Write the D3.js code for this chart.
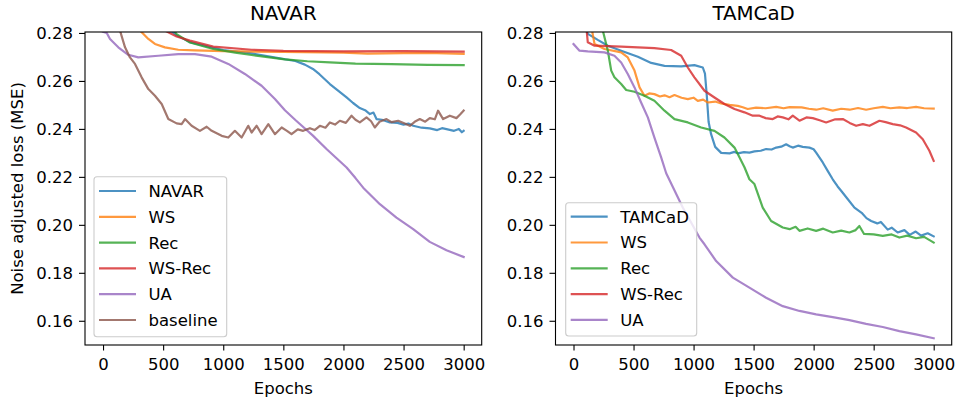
<!DOCTYPE html>
<html>
<head>
<meta charset="utf-8">
<script src="https://cdn.jsdelivr.net/npm/d3@7"></script>
<style>
  html, body { margin: 0; padding: 0; background: #fff; }
  svg { display: block; font-family: "DejaVu Sans", sans-serif; }
</style>
</head>
<body>
<svg id="chart" width="957" height="403"></svg>
<script>
// ---------- data (epoch, value) ----------
const xTicks = [0, 500, 1000, 1500, 2000, 2500, 3000];
const yTicks = [0.16, 0.18, 0.20, 0.22, 0.24, 0.26, 0.28];
const panelTitles = ["NAVAR", "TAMCaD"];
const leftLabels = ["NAVAR", "WS", "Rec", "WS-Rec", "UA", "baseline"];
const rightLabels = ["TAMCaD", "WS", "Rec", "WS-Rec", "UA"];

// Left panel (NAVAR)
const navarMain = [[0,0.34],[300,0.295],[515,0.283],[612,0.279],[723,0.2762],[917,0.2738],[1000,0.2729],[1236,0.2715],[1471,0.2694],[1600,0.2683],[1679,0.2668],[1746,0.265],[1800,0.2628],[1887,0.2587],[1950,0.2562],[2026,0.2531],[2080,0.2508],[2136,0.2487],[2180,0.2478],[2220,0.2462],[2250,0.2468],[2275,0.2441],[2320,0.2438],[2386,0.2427],[2450,0.2425],[2500,0.2418],[2540,0.2422],[2580,0.2413],[2650,0.2405],[2718,0.2402],[2780,0.2395],[2820,0.2403],[2857,0.2399],[2920,0.2392],[2960,0.2400],[2985,0.2386],[3000,0.2392]];
const navarWS = [[0,0.32],[150,0.298],[250,0.286],[308,0.281],[377,0.2775],[432,0.2754],[515,0.274],[626,0.273],[765,0.2727],[1000,0.2724],[1500,0.2721],[2000,0.2718],[2200,0.2714],[2500,0.2716],[2700,0.2717],[3000,0.2713]];
const navarRec = [[0,0.35],[300,0.30],[540,0.285],[612,0.2795],[723,0.276],[917,0.2733],[1100,0.2718],[1236,0.2708],[1513,0.269],[1700,0.2682],[1887,0.2677],[2100,0.2672],[2400,0.267],[2700,0.2667],[3000,0.2666]];
const navarWSRec = [[0,0.33],[300,0.292],[515,0.281],[612,0.2785],[723,0.2768],[917,0.2743],[1236,0.273],[1500,0.2725],[2000,0.2723],[2500,0.2724],[3000,0.2722]];
const navarUA = [[0,0.2805],[31,0.280],[58,0.2775],[127,0.274],[210,0.2709],[293,0.2698],[460,0.2705],[626,0.2712],[765,0.2712],[904,0.2701],[1042,0.2671],[1180,0.2629],[1319,0.258],[1430,0.2525],[1513,0.2478],[1600,0.2437],[1746,0.2372],[1859,0.2316],[2026,0.2239],[2100,0.2195],[2164,0.2155],[2303,0.2086],[2441,0.203],[2580,0.1982],[2718,0.1929],[2857,0.1894],[3000,0.1866]];
const navarBaseline = [[0,0.33],[100,0.292],[141,0.281],[183,0.274],[224,0.2698],[266,0.2671],[321,0.2615],[377,0.2566],[432,0.2538],[488,0.2504],[543,0.2441],[612,0.2423],[654,0.242],[682,0.2441],[737,0.2413],[806,0.2392],[862,0.2409],[904,0.2392],[987,0.2371],[1042,0.2364],[1097,0.2392],[1153,0.2364],[1208,0.2413],[1236,0.2385],[1278,0.2413],[1319,0.2378],[1375,0.242],[1430,0.2378],[1486,0.2406],[1530,0.2392],[1568,0.2378],[1620,0.2398],[1665,0.2392],[1721,0.2403],[1760,0.2395],[1804,0.2413],[1850,0.2405],[1887,0.2427],[1930,0.2418],[1970,0.2434],[2020,0.2425],[2067,0.2455],[2100,0.2438],[2136,0.2427],[2192,0.2448],[2230,0.2432],[2261,0.2406],[2300,0.2430],[2358,0.2441],[2400,0.2428],[2455,0.2434],[2500,0.2425],[2552,0.2413],[2600,0.2432],[2635,0.2441],[2680,0.2430],[2718,0.2445],[2760,0.2440],[2787,0.2476],[2829,0.2441],[2885,0.2455],[2940,0.2445],[2970,0.2460],[3000,0.2476]];

// Right panel (TAMCaD)
const tamcadMain = [[0,0.31],[90,0.284],[119,0.2796],[202,0.2771],[286,0.2747],[397,0.2726],[536,0.2701],[647,0.2675],[758,0.2663],[897,0.2661],[1007,0.2666],[1077,0.2656],[1095,0.263],[1110,0.254],[1125,0.243],[1146,0.2378],[1180,0.2325],[1230,0.2300],[1300,0.2298],[1340,0.2304],[1368,0.2298],[1420,0.2303],[1465,0.2301],[1507,0.2306],[1560,0.2309],[1604,0.2316],[1650,0.2314],[1688,0.2322],[1730,0.2326],[1771,0.2336],[1800,0.2328],[1826,0.2322],[1870,0.2330],[1909,0.2325],[1965,0.2322],[2000,0.2315],[2021,0.2301],[2076,0.226],[2117,0.2225],[2159,0.219],[2200,0.2160],[2229,0.2142],[2280,0.2110],[2340,0.2072],[2400,0.2050],[2440,0.2028],[2479,0.2016],[2530,0.2006],[2560,0.2012],[2617,0.1980],[2650,0.1988],[2700,0.1968],[2756,0.1978],[2800,0.1958],[2850,0.1972],[2895,0.1955],[2950,0.1965],[3000,0.1952]];
const tamcadWS = [[0,0.33],[140,0.285],[175,0.2754],[258,0.2733],[397,0.2719],[452,0.2698],[508,0.2643],[550,0.2573],[591,0.2538],[630,0.2548],[674,0.2545],[720,0.2535],[758,0.2540],[800,0.2532],[841,0.2541],[900,0.2530],[952,0.2524],[1000,0.2530],[1035,0.2517],[1080,0.2522],[1118,0.2510],[1180,0.2514],[1230,0.2506],[1300,0.2500],[1368,0.2496],[1410,0.2490],[1451,0.2483],[1521,0.2489],[1600,0.2486],[1688,0.2492],[1750,0.2486],[1800,0.2491],[1900,0.2490],[1960,0.2484],[2021,0.2480],[2080,0.2486],[2159,0.2476],[2230,0.2484],[2300,0.2480],[2370,0.2487],[2437,0.2480],[2500,0.2486],[2576,0.2492],[2640,0.2486],[2714,0.2490],[2780,0.2487],[2853,0.2492],[2920,0.2486],[3000,0.2485]];
const tamcadRec = [[0,0.32],[200,0.29],[244,0.281],[286,0.2726],[314,0.2643],[341,0.2615],[397,0.2587],[439,0.2562],[508,0.2555],[591,0.2538],[674,0.2517],[758,0.2476],[841,0.2441],[952,0.2427],[1063,0.2406],[1174,0.2392],[1257,0.2364],[1341,0.2322],[1424,0.2240],[1465,0.2190],[1507,0.2170],[1576,0.2072],[1646,0.2016],[1743,0.1989],[1800,0.1982],[1850,0.1992],[1882,0.1975],[1950,0.1985],[2021,0.1975],[2080,0.1984],[2159,0.1968],[2230,0.1976],[2298,0.1968],[2350,0.1978],[2381,0.1995],[2420,0.1962],[2500,0.1960],[2576,0.1954],[2650,0.1960],[2714,0.1947],[2780,0.1955],[2853,0.1944],[2920,0.1950],[3000,0.1926]];
const tamcadWSRec = [[0,0.34],[100,0.286],[119,0.2761],[175,0.2747],[397,0.2743],[674,0.2737],[813,0.2729],[897,0.2705],[952,0.2656],[1007,0.2615],[1091,0.2559],[1174,0.2531],[1257,0.2504],[1341,0.2483],[1424,0.2469],[1493,0.2455],[1549,0.2455],[1600,0.2445],[1660,0.2441],[1700,0.2452],[1743,0.2448],[1790,0.2440],[1826,0.2455],[1882,0.2434],[1940,0.2448],[1993,0.2445],[2050,0.2436],[2104,0.2427],[2180,0.2440],[2243,0.2441],[2300,0.2425],[2354,0.2413],[2410,0.2420],[2465,0.2413],[2548,0.2434],[2600,0.2428],[2659,0.242],[2720,0.2415],[2770,0.2406],[2853,0.2385],[2909,0.2357],[2964,0.2309],[3000,0.2267]];
const tamcadUA = [[0,0.2754],[50,0.2726],[119,0.2723],[258,0.2719],[341,0.2705],[397,0.2677],[452,0.2629],[508,0.2573],[563,0.251],[619,0.2448],[674,0.2364],[730,0.2281],[772,0.2215],[910,0.2072],[1049,0.1947],[1091,0.1919],[1188,0.1849],[1327,0.178],[1465,0.1738],[1604,0.1696],[1743,0.1661],[1882,0.1641],[2021,0.1627],[2159,0.1615],[2298,0.1603],[2437,0.1587],[2576,0.1574],[2714,0.1557],[2853,0.1543],[3000,0.1527]];

const colors = ["#1f77b4", "#ff7f0e", "#2ca02c", "#d62728", "#9467bd", "#8c564b"];

// ---------- layout ----------
const svg = d3.select("#chart");
const FS = 16.5;
const panels = [
  { x0: 85, x1: 481.7, title: panelTitles[0], series: [navarMain, navarWS, navarRec, navarWSRec, navarUA, navarBaseline], labels: leftLabels,
    legend: { x: 94, y: 176.7, w: 132.7, h: 160, rowY0: 191, pitch: 25.8 } },
  { x0: 555.5, x1: 951.7, title: panelTitles[1], series: [tamcadMain, tamcadWS, tamcadRec, tamcadWSRec, tamcadUA], labels: rightLabels,
    legend: { x: 565.7, y: 202.7, w: 131, h: 133.3, rowY0: 216.7, pitch: 25.8 } }
];
const yTop = 32, yBot = 345;

const y = d3.scaleLinear().domain([0.1499, 0.2804]).range([yBot, yTop]);

panels.forEach((p, pi) => {
  const x = d3.scaleLinear().domain([-150, 3150]).range([p.x0, p.x1]);
  const g = svg.append("g");
  const clipId = "clip" + pi;
  svg.append("clipPath").attr("id", clipId).append("rect")
    .attr("x", p.x0).attr("y", yTop).attr("width", p.x1 - p.x0).attr("height", yBot - yTop);

  const line = d3.line().x(d => x(d[0])).y(d => y(d[1]));
  const lg = g.append("g").attr("clip-path", `url(#${clipId})`);
  p.series.forEach((s, i) => {
    lg.append("path").attr("d", line(s)).attr("fill", "none")
      .attr("stroke", colors[i]).attr("stroke-opacity", 0.8)
      .attr("stroke-width", 2.2).attr("stroke-linejoin", "round").attr("stroke-linecap", "square");
  });

  // x axis
  const xAxis = d3.axisBottom(x).tickValues(xTicks).tickFormat(d3.format("d")).tickSize(5.5).tickSizeOuter(0);
  const xg = g.append("g").attr("transform", `translate(0,${yBot})`).call(xAxis);
  xg.select(".domain").remove();
  xg.selectAll(".tick line").attr("stroke", "#000").attr("stroke-width", 1.1);
  xg.selectAll(".tick text").attr("y", 25).attr("dy", null)
    .attr("font-size", FS).attr("fill", "#000").attr("font-family", "DejaVu Sans");

  // y axis
  const yAxis = d3.axisLeft(y).tickValues(yTicks).tickFormat(d3.format(".2f")).tickSize(6).tickSizeOuter(0);
  const yg = g.append("g").attr("transform", `translate(${p.x0},0)`).call(yAxis);
  yg.select(".domain").remove();
  yg.selectAll(".tick line").attr("stroke", "#000").attr("stroke-width", 1.1);
  yg.selectAll(".tick text").attr("x", -12).attr("dy", "0.36em")
    .attr("font-size", FS).attr("fill", "#000").attr("font-family", "DejaVu Sans");

  // frame
  g.append("rect").attr("x", p.x0).attr("y", yTop).attr("width", p.x1 - p.x0).attr("height", yBot - yTop)
    .attr("fill", "none").attr("stroke", "#000").attr("stroke-width", 1.1);

  // title
  g.append("text").attr("x", (p.x0 + p.x1) / 2).attr("y", 20).attr("text-anchor", "middle")
    .attr("font-size", 19.8).text(p.title);

  // x label
  g.append("text").attr("x", (p.x0 + p.x1) / 2).attr("y", 394).attr("text-anchor", "middle")
    .attr("font-size", FS).text("Epochs");

  // legend
  const L = p.legend;
  const leg = g.append("g");
  leg.append("rect").attr("x", L.x).attr("y", L.y).attr("width", L.w).attr("height", L.h)
    .attr("rx", 3).attr("fill", "#fff").attr("fill-opacity", 0.8)
    .attr("stroke", "#cccccc").attr("stroke-width", 1.1);
  p.labels.forEach((lab, i) => {
    const cy = L.rowY0 + i * L.pitch;
    leg.append("line").attr("x1", L.x + 5).attr("x2", L.x + 42).attr("y1", cy).attr("y2", cy)
      .attr("stroke", colors[i]).attr("stroke-opacity", 0.8).attr("stroke-width", 2.2);
    leg.append("text").attr("x", L.x + 54.5).attr("y", cy).attr("dy", "0.36em")
      .attr("font-size", FS).text(lab);
  });
});

// y label
svg.append("text").attr("transform", `translate(23,${(yTop + yBot) / 2}) rotate(-90)`)
  .attr("text-anchor", "middle").attr("font-size", FS).text("Noise adjusted loss (MSE)");
</script>
</body>
</html>
